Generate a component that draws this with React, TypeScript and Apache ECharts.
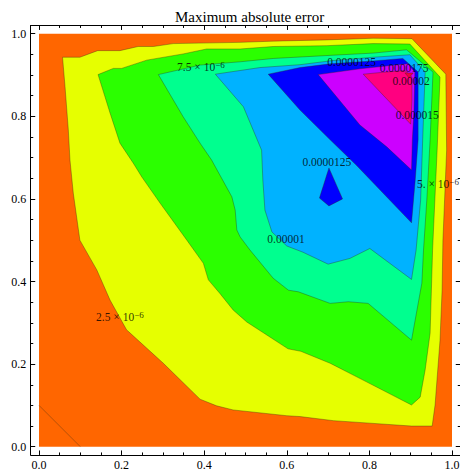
import React, { useEffect, useRef } from "react";
import * as echarts from "echarts";

const chartTitle = "Maximum absolute error";
const majorTicks = [0, 0.2, 0.4, 0.6, 0.8, 1.0];
const minorTicks = [0.05, 0.1, 0.15, 0.25, 0.3, 0.35, 0.45, 0.5, 0.55, 0.65, 0.7, 0.75, 0.85, 0.9, 0.95];

// contour levels (value above which each region lies)
const contourLevels = [0, 2.5e-6, 5e-6, 7.5e-6, 1e-5, 1.25e-5, 1.25e-5, 1.5e-5, 1.75e-5, 2e-5];

// region polygons in data coordinates
const domain = [[0, 0], [1, 0], [1, 1], [0, 1]];
const region2p5 = [[0.057, 0.943], [0.099, 0.943], [0.142, 0.959], [0.196, 0.959], [0.240, 0.969], [0.277, 0.969], [0.325, 0.976], [0.487, 0.979], [0.567, 0.982], [0.697, 0.985], [0.809, 0.989], [0.903, 0.988], [0.985, 0.902], [0.987, 0.718], [0.978, 0.500], [0.976, 0.379], [0.971, 0.258], [0.959, 0.101], [0.952, 0.050], [0.902, 0.050], [0.801, 0.057], [0.713, 0.063], [0.632, 0.073], [0.600, 0.075], [0.470, 0.089], [0.430, 0.099], [0.390, 0.115], [0.301, 0.202], [0.212, 0.283], [0.172, 0.355], [0.140, 0.428], [0.099, 0.500], [0.083, 0.614], [0.075, 0.694], [0.071, 0.767], [0.063, 0.872]];
const region5 = [[0.143, 0.901], [0.180, 0.916], [0.200, 0.916], [0.261, 0.936], [0.349, 0.951], [0.406, 0.963], [0.487, 0.963], [0.567, 0.969], [0.697, 0.971], [0.809, 0.976], [0.898, 0.975], [0.971, 0.895], [0.964, 0.718], [0.953, 0.476], [0.947, 0.275], [0.935, 0.186], [0.923, 0.120], [0.902, 0.101], [0.793, 0.157], [0.705, 0.202], [0.634, 0.231], [0.603, 0.237], [0.503, 0.302], [0.470, 0.331], [0.438, 0.371], [0.410, 0.404], [0.398, 0.444], [0.358, 0.500], [0.293, 0.590], [0.249, 0.653], [0.228, 0.687], [0.196, 0.735], [0.172, 0.808]];
const region7p5 = [[0.289, 0.901], [0.390, 0.924], [0.487, 0.932], [0.567, 0.940], [0.713, 0.948], [0.809, 0.953], [0.890, 0.961], [0.954, 0.907], [0.947, 0.743], [0.939, 0.597], [0.931, 0.476], [0.927, 0.396], [0.902, 0.258], [0.797, 0.347], [0.749, 0.351], [0.705, 0.347], [0.628, 0.375], [0.604, 0.379], [0.567, 0.408], [0.511, 0.476], [0.487, 0.508], [0.479, 0.525], [0.475, 0.573], [0.467, 0.605], [0.418, 0.694], [0.390, 0.735], [0.349, 0.799]];
const region10 = [[0.427, 0.902], [0.535, 0.918], [0.632, 0.925], [0.712, 0.935], [0.809, 0.943], [0.898, 0.949], [0.935, 0.907], [0.929, 0.743], [0.924, 0.597], [0.913, 0.476], [0.902, 0.405], [0.801, 0.480], [0.753, 0.456], [0.700, 0.442], [0.639, 0.471], [0.600, 0.486], [0.564, 0.520], [0.547, 0.573], [0.542, 0.646], [0.539, 0.718], [0.495, 0.823]];
const region12p5 = [[0.555, 0.902], [0.632, 0.918], [0.705, 0.927], [0.809, 0.934], [0.881, 0.940], [0.918, 0.907], [0.918, 0.743], [0.911, 0.646], [0.902, 0.542], [0.768, 0.682], [0.705, 0.743], [0.632, 0.815]];
const region12p5Kite = [[0.702, 0.675], [0.735, 0.600], [0.702, 0.583], [0.679, 0.602]];
const region15 = [[0.676, 0.901], [0.777, 0.915], [0.862, 0.924], [0.893, 0.927], [0.910, 0.907], [0.908, 0.815], [0.904, 0.743], [0.902, 0.670], [0.842, 0.726], [0.777, 0.779]];
const region17p5 = [[0.785, 0.902], [0.838, 0.907], [0.886, 0.911], [0.903, 0.895], [0.903, 0.839], [0.900, 0.781]];
const region20 = [[0.886, 0.905], [0.906, 0.905], [0.896, 0.893]];
const cornerContour = [[0, 0.1], [0.1, 0]];

const regionPolys = [domain, region2p5, region5, region7p5, region10, region12p5, region12p5Kite, region15, region17p5, region20];
const regionColors = ["#FF6600", "#E6FF00", "#2BFF00", "#00FF8F", "#00B2FF", "#0000FF", "#0000FF", "#CC00FF", "#FF0080", "#EE0040"];

// contour labels
const labelX = [0.392, 0.757, 0.884, 0.901, 0.916, 0.697, 0.598, 0.966, 0.196];
const labelY = [0.919, 0.931, 0.918, 0.885, 0.803, 0.690, 0.502, 0.636, 0.314];
const labelMantissa = ["7.5 × 10", "0.0000125", "0.0000175", "0.00002", "0.000015", "0.0000125", "0.00001", "5. × 10", "2.5 × 10"];
const labelExponent = ["−6", "", "", "", "", "", "", "−6", "−6"];

const SERIF = "Liberation Serif";
const lineColor = "rgba(50,40,20,0.5)";

export default function App() {
  const ref = useRef<HTMLDivElement>(null);
  useEffect(() => {
    if (!ref.current) return;
    const chart = echarts.init(ref.current, null, { renderer: "svg" });
    const lo = -0.02, hi = 1.02;
    const mkX = (position: string, ticks: number[], len: number, label: boolean, line: boolean) => ({
      type: "value", min: lo, max: hi, position,
      axisLine: { show: line, onZero: false, lineStyle: { color: "#000", width: 1 } },
      axisTick: { show: true, inside: true, length: len, customValues: ticks, lineStyle: { color: "#000", width: 1 } },
      axisLabel: { show: label, customValues: ticks, formatter: (v: number) => v.toFixed(1), fontFamily: SERIF, fontSize: 12, lineHeight: 11, color: "#000", margin: 5 },
      splitLine: { show: false },
    });
    const option: any = {
      animation: false,
      backgroundColor: "#fff",
      title: { text: chartTitle, left: 170, top: 4, textStyle: { fontFamily: SERIF, fontSize: 15, fontWeight: "normal", color: "#000" } },
      grid: { left: 30.74, top: 25.44, width: 429.52, height: 429.52, containLabel: false, outerBoundsMode: "none" },
      xAxis: [
        mkX("bottom", majorTicks, 4.5, true, true),
        mkX("bottom", minorTicks, 2.5, false, false),
        mkX("top", majorTicks, 4.5, false, true),
        mkX("top", minorTicks, 2.5, false, false),
      ],
      yAxis: [
        mkX("left", majorTicks, 4.5, true, true),
        mkX("left", minorTicks, 2.5, false, false),
        mkX("right", majorTicks, 4.5, false, true),
        mkX("right", minorTicks, 2.5, false, false),
      ].map((a: any) => ({ ...a, axisLabel: { ...a.axisLabel, margin: 4.5, lineHeight: 14 } })),
      series: [
        {
          type: "custom",
          xAxisIndex: 0, yAxisIndex: 0,
          silent: true,
          data: regionPolys.map((p, i) => [p[0][0], p[0][1], contourLevels[i]]),
          encode: { x: 0, y: 1 },
          renderItem: (params: any, api: any) => {
            const i = params.dataIndex;
            return {
              type: "polygon",
              shape: { points: regionPolys[i].map((pt) => api.coord(pt)) },
              style: { fill: regionColors[i], stroke: i === 0 ? "none" : lineColor, lineWidth: 0.7 },
            };
          },
        },
        {
          type: "line",
          xAxisIndex: 0, yAxisIndex: 0,
          silent: true,
          showSymbol: false,
          data: cornerContour,
          lineStyle: { color: lineColor, width: 0.7 },
        },
        {
          type: "scatter",
          xAxisIndex: 0, yAxisIndex: 0,
          silent: true,
          symbolSize: 1,
          itemStyle: { color: "rgba(0,0,0,0)" },
          data: labelX.map((x, i) => ({ value: [x, labelY[i]], name: String(i) })),
          label: {
            show: true,
            position: "inside",
            formatter: (p: any) => {
              const i = p.dataIndex;
              return labelExponent[i] ? `{m|${labelMantissa[i]}}{e|${labelExponent[i]}}` : `{m|${labelMantissa[i]}}`;
            },
            rich: {
              m: { fontFamily: SERIF, fontSize: 11.5, color: "#000", lineHeight: 14 },
              e: { fontFamily: SERIF, fontSize: 9, color: "#000", lineHeight: 7, verticalAlign: "top" },
            },
          },
        },
      ],
    };
    chart.setOption(option);
    return () => chart.dispose();
  }, []);
  return <div ref={ref} style={{ position: "absolute", left: 0, top: 0, width: 460, height: 471 }} />;
}
